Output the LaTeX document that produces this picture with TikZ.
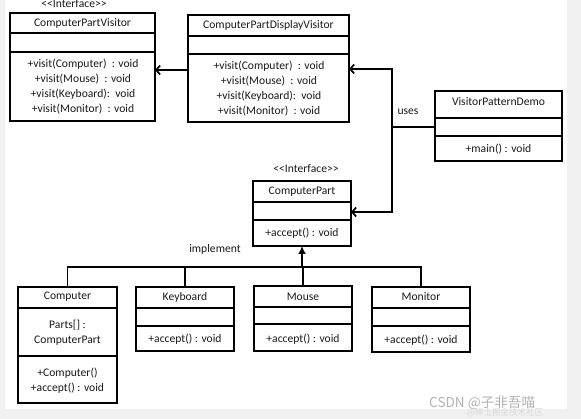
\documentclass[tikz,border=0pt]{standalone}
\usepackage{fontspec}
\setmainfont{Carlito}
\newfontfamily\cjkfont{Noto Sans CJK SC}
\usetikzlibrary{arrows.meta}
\definecolor{bggrey}{HTML}{F1F1F1}
\definecolor{inkc}{HTML}{1A1A1A}
\tikzset{
  umlbox/.style={draw=black, line width=1.7pt, fill=white, inner sep=0pt, outer sep=0pt, anchor=north west},
  divline/.style={draw=black, line width=1.7pt},
  txt/.style={inner sep=0pt, text=inkc, font=\fontsize{11.6}{15}\selectfont, align=center},
  conn/.style={draw=black, line width=1.9pt},
  openarr/.style={conn, -{Straight Barb[length=4pt,width=9pt,line width=1.7pt]}},
  filledarr/.style={conn, -{Latex[length=8pt,width=8pt]}},
}
% \umlclass{name}{x1}{y1}{x2}{y2}{div1}{div2}
\newcommand{\umlclass}[7]{%
  \pgfmathsetmacro{\bw}{#4-#2}%
  \pgfmathsetmacro{\bh}{#5-#3}%
  \node[umlbox, minimum width=\bw pt, minimum height=\bh pt] (#1) at (#2,#3) {};
  \draw[divline] (#1.west |- 0,#6) -- (#1.east |- 0,#6);
  \draw[divline] (#1.west |- 0,#7) -- (#1.east |- 0,#7);
}
\begin{document}
\begin{tikzpicture}[x=1pt,y=-1pt]
\useasboundingbox (0,0) rectangle (581,419);
\fill[bggrey] (0,0) rectangle (581,419);
\fill[white] (5,0) rectangle (567,409);

% classes
\umlclass{cpv}{10}{13}{155}{121}{33}{52}
\umlclass{cpdv}{188}{15}{349}{122}{36}{54}
\umlclass{vpd}{435}{91}{562}{161}{118}{136}
\umlclass{cp}{253}{181}{351}{246}{202}{220}
\umlclass{computer}{18}{287}{117}{403}{308}{356}
\umlclass{keyboard}{136}{287}{234}{351}{308}{326}
\umlclass{mouse}{254}{286}{352}{351}{307}{324}
\umlclass{monitor}{372}{287}{470}{352}{308}{326}

% texts
\node[txt] (cpvst) at (74,4) {<{}<Interface>{}>};
\node[txt] (cpvn) at (82.5,23) {ComputerPartVisitor};
\node[txt] (cpvm) at (83,86.5) {+visit(Computer)~~: void\\+visit(Mouse)~~: void\\+visit(Keyboard):~~void\\+visit(Monitor)~~: void};

\node[txt] (cpdvn) at (268.5,25.5) {ComputerPartDisplayVisitor};
\node[txt] (cpdvm) at (269,89) {+visit(Computer)~~: void\\+visit(Mouse)~~: void\\+visit(Keyboard):~~void\\+visit(Monitor)~~: void};

\node[txt] (vpdn) at (498.5,102) {VisitorPatternDemo};
\node[txt] (vpdm) at (498.5,149) {+main() : void};

\node[txt] (cpst) at (306,169) {<{}<Interface>{}>};
\node[txt] (cpn) at (302,192) {ComputerPart};
\node[txt] (cpm) at (302,233) {+accept() : void};

\node[txt] (compn) at (67.5,297) {Computer};
\node[txt] (compa) at (67.5,333) {Parts[]~:\\ComputerPart};
\node[txt] (compm) at (67.5,380.5) {+Computer()\\+accept()~: void};

\node[txt] (keyn) at (185,297) {Keyboard};
\node[txt] (keym) at (185,339) {+accept() : void};

\node[txt] (mousen) at (303,297) {Mouse};
\node[txt] (mousem) at (303,339) {+accept() : void};

\node[txt] (monn) at (421,297) {Monitor};
\node[txt] (monm) at (421,340) {+accept() : void};

\node[txt] (impl) at (215,249) {implement};
\node[txt] (uses) at (408,112) {uses};

% connectors
\draw[openarr] (cpdv.west |- 0,70) -- (cpv.east |- 0,70);

\coordinate (junc) at (392,127);
\draw[conn] (vpd.west |- junc) -- (junc);
\draw[openarr] (junc) |- (cpdv.east |- 0,69);
\draw[openarr] (junc) |- (cp.east |- 0,212);

\coordinate (bus) at (0,267);
\draw[conn] (computer.north) -- (computer.north |- bus) -- (monitor.north |- bus) -- (monitor.north);
\draw[conn] (keyboard.north |- bus) -- (keyboard.north);
\draw[conn] (mouse.north |- bus) -- (mouse.north);
\draw[filledarr] (cp.south |- bus) -- (cp.south);

% watermark
\node[inner sep=0pt, anchor=base west, text=black!30, font=\cjkfont\fontsize{13.6}{13.6}\selectfont] (wm1) at (429,407) {CSDN @子非吾喵};
\node[inner sep=0pt, anchor=base west, text=black!15, font=\cjkfont\fontsize{8.5}{8.5}\selectfont] (wm2) at (467,415) {@稀土掘金技术社区};
\end{tikzpicture}
\end{document}
